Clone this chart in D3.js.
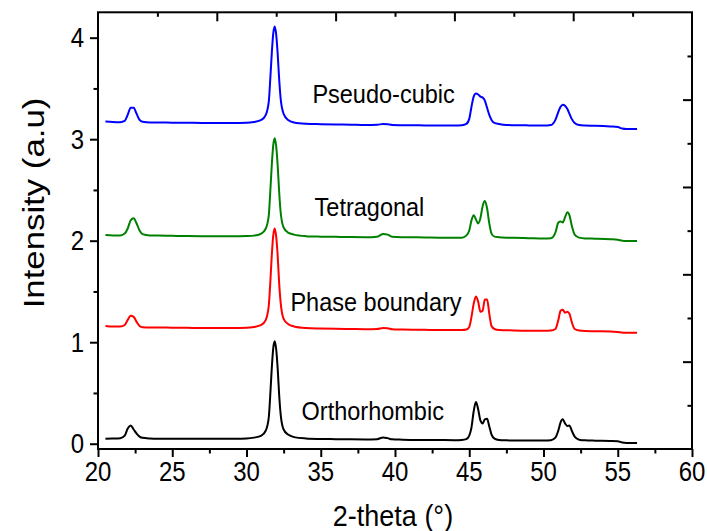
<!DOCTYPE html>
<html>
<head>
<meta charset="utf-8">
<script src="https://cdn.jsdelivr.net/npm/d3@7"></script>
<style>
  html, body { margin: 0; padding: 0; background: #fff; }
  svg { display: block; }
  text { font-family: "Liberation Sans", Arial, Helvetica, sans-serif; fill: #000; }
</style>
</head>
<body>
<svg id="chart" width="707" height="531"></svg>
<script>
// ---------------- data ----------------
const twoTheta = [20.5,21.0,21.5,21.8,22.0,22.2,22.4,22.6,22.8,23.0,23.5,24,25,26,27,28,29,30,30.5,
  31.0,31.3,31.5,31.6,31.7,31.8,31.9,32.0,32.1,32.2,32.3,32.5,32.8,33.2,34,35,36,37,38,38.8,39.2,39.5,39.8,
  40.5,42,43,44,44.5,44.8,45.0,45.15,45.3,45.45,45.6,45.75,45.9,46.05,46.2,46.35,46.5,46.7,47.0,47.5,48,49,
  50,50.5,50.8,51.0,51.15,51.3,51.45,51.6,51.75,51.9,52.1,52.4,52.8,53.5,54.5,55.0,55.3,55.6,56.3];

const orthorhombic = [0.05,0.052,0.055,0.08,0.15,0.18,0.14,0.10,0.07,0.058,0.052,0.05,0.05,0.049,0.048,0.048,0.049,0.052,0.06,
  0.08,0.13,0.26,0.48,0.74,0.94,1.01,0.93,0.74,0.48,0.29,0.14,0.09,0.065,0.052,0.047,0.045,0.043,0.042,0.045,0.062,0.055,0.043,
  0.04,0.037,0.036,0.035,0.037,0.045,0.08,0.16,0.32,0.41,0.34,0.23,0.20,0.24,0.245,0.17,0.09,0.05,0.037,0.033,0.032,0.031,
  0.032,0.035,0.06,0.13,0.21,0.24,0.20,0.175,0.18,0.13,0.07,0.04,0.033,0.03,0.027,0.024,0.012,0.008,0.008];

const phaseBoundary = [1.16,1.155,1.155,1.17,1.22,1.26,1.25,1.20,1.16,1.148,1.145,1.145,1.143,1.142,1.14,1.14,1.14,1.142,1.15,
  1.17,1.22,1.36,1.58,1.85,2.05,2.12,2.04,1.85,1.58,1.39,1.23,1.18,1.155,1.14,1.135,1.132,1.13,1.128,1.13,1.14,1.138,1.128,
  1.125,1.122,1.12,1.12,1.12,1.125,1.15,1.25,1.38,1.45,1.40,1.30,1.31,1.42,1.42,1.28,1.16,1.13,1.12,1.118,1.115,1.113,
  1.112,1.115,1.13,1.22,1.31,1.32,1.29,1.30,1.28,1.20,1.13,1.115,1.11,1.108,1.105,1.10,1.095,1.092,1.092];

const tetragonal = [2.055,2.052,2.052,2.07,2.12,2.20,2.22,2.17,2.10,2.065,2.052,2.05,2.048,2.046,2.045,2.045,2.045,2.047,2.05,
  2.07,2.12,2.25,2.48,2.74,2.94,3.01,2.93,2.74,2.48,2.28,2.13,2.08,2.06,2.045,2.04,2.038,2.036,2.035,2.04,2.065,2.06,2.04,
  2.035,2.032,2.03,2.03,2.03,2.05,2.10,2.20,2.25,2.21,2.17,2.22,2.34,2.39,2.32,2.17,2.07,2.04,2.035,2.03,2.028,2.025,
  2.022,2.025,2.08,2.18,2.19,2.18,2.23,2.28,2.25,2.15,2.06,2.03,2.022,2.02,2.015,2.01,2.0,1.997,1.997];

const pseudoCubic = [3.175,3.17,3.168,3.18,3.24,3.31,3.31,3.25,3.19,3.172,3.165,3.165,3.163,3.162,3.16,3.16,3.16,3.162,3.17,
  3.19,3.24,3.37,3.59,3.84,4.04,4.11,4.03,3.84,3.59,3.40,3.25,3.19,3.165,3.152,3.148,3.145,3.143,3.14,3.142,3.15,3.148,3.14,
  3.138,3.136,3.135,3.135,3.138,3.15,3.20,3.32,3.42,3.45,3.44,3.42,3.41,3.38,3.31,3.24,3.19,3.16,3.15,3.14,3.138,3.136,
  3.135,3.14,3.19,3.27,3.32,3.34,3.33,3.30,3.25,3.20,3.16,3.14,3.135,3.132,3.125,3.12,3.105,3.10,3.10];

const seriesNames = ["Orthorhombic", "Phase boundary", "Tetragonal", "Pseudo-cubic"];
const seriesColors = ["#000000", "#ff0000", "#008000", "#0000ff"];
const labelPos = [[38.5, 0.233], [38.72, 1.307], [38.28, 2.243], [39.23, 3.354]]; // [2-theta, intensity] anchors (middle, baseline)

const xMajorTicks = [20, 25, 30, 35, 40, 45, 50, 55, 60];
const xMinorTicks = [22.5, 27.5, 32.5, 37.5, 42.5, 47.5, 52.5, 57.5];
const yMajorTicks = [0, 1, 2, 3, 4];
const yMinorTicks = [0.5, 1.5, 2.5, 3.5];
const topTicks = [24, 28, 32, 36, 40, 44, 48, 52, 56];
const rightTicks = [1, 2, 3, 4, 5, 6, 7, 8, 9];

const xTitle = "2-theta (°)";
const yTitle = "Intensity (a.u)";

// ---------------- chart ----------------
const svg = d3.select("#chart");
const L = 98, R = 692, T = 12.3, B = 449;
const SY = 1.12; // vertical stretch of lettering in the reference

const x = d3.scaleLinear().domain([20, 60]).range([L, R]);
const y = d3.scaleLinear().domain([-0.052, 4.25]).range([B, T]);
const yRight = d3.scaleLinear().domain([0, 10]).range([T, B]);

const allSeries = [orthorhombic, phaseBoundary, tetragonal, pseudoCubic];

const line = d3.line()
  .x((d, i) => x(twoTheta[i]))
  .y(d => y(d))
  .curve(d3.curveMonotoneX);

svg.append("g").selectAll("path")
  .data(allSeries)
  .join("path")
  .attr("d", d => line(d))
  .attr("fill", "none")
  .attr("stroke", (d, i) => seriesColors[i])
  .attr("stroke-width", 2)
  .attr("stroke-linejoin", "round");

// annotations
svg.append("g").selectAll("text")
  .data(seriesNames)
  .join("text")
  .attr("transform", (d, i) => `translate(${x(labelPos[i][0])},${y(labelPos[i][1])}) scale(1,1.09)`)
  .attr("text-anchor", "middle")
  .attr("font-size", 23.5)
  .text(d => d);

function styleAxis(g) {
  g.select(".domain").remove();
  g.selectAll("line").attr("stroke", "#000").attr("stroke-width", 2);
}

// bottom axis
svg.append("g").attr("transform", `translate(0,${B})`)
  .call(d3.axisBottom(x).tickValues(xMajorTicks).tickSize(8).tickFormat(""))
  .call(styleAxis);
svg.append("g").attr("transform", `translate(0,${B})`)
  .call(d3.axisBottom(x).tickValues(xMinorTicks).tickSize(4.5).tickFormat(""))
  .call(styleAxis);
svg.append("g").selectAll("text")
  .data(xMajorTicks)
  .join("text")
  .attr("transform", d => `translate(${x(d)},481) scale(1,${SY})`)
  .attr("text-anchor", "middle")
  .attr("font-size", 24)
  .text(d3.format("d"));

// left axis
svg.append("g").attr("transform", `translate(${L},0)`)
  .call(d3.axisLeft(y).tickValues(yMajorTicks).tickSize(8).tickFormat(""))
  .call(styleAxis);
svg.append("g").attr("transform", `translate(${L},0)`)
  .call(d3.axisLeft(y).tickValues(yMinorTicks).tickSize(4.5).tickFormat(""))
  .call(styleAxis);
svg.append("g").selectAll("text")
  .data(yMajorTicks)
  .join("text")
  .attr("transform", d => `translate(84,${y(d) + 9.5}) scale(1,${SY})`)
  .attr("text-anchor", "end")
  .attr("font-size", 24)
  .text(d3.format("d"));

// top axis (inward ticks)
svg.append("g").attr("transform", `translate(0,${T})`)
  .call(d3.axisTop(x).tickValues(topTicks).tickSizeInner(0).tickSizeOuter(0).tickFormat(""))
  .call(styleAxis)
  .selectAll(".tick line")
  .attr("y2", d => ((d - 24) / 4) % 2 === 1 ? 9 : 4.5);

// right axis (inward ticks)
svg.append("g").attr("transform", `translate(${R},0)`)
  .call(d3.axisRight(yRight).tickValues(rightTicks).tickSizeInner(0).tickSizeOuter(0).tickFormat(""))
  .call(styleAxis)
  .selectAll(".tick line")
  .attr("x2", d => d % 2 === 0 ? -9 : -4.5);

// frame
svg.append("rect")
  .attr("x", L).attr("y", T).attr("width", R - L).attr("height", B - T)
  .attr("fill", "none").attr("stroke", "#000").attr("stroke-width", 2);

// axis titles
svg.append("text")
  .attr("transform", `translate(${(L + R) / 2 - 2},526) scale(1,${SY})`)
  .attr("text-anchor", "middle").attr("font-size", 27)
  .text(xTitle);

svg.append("text")
  .attr("transform", `translate(44,203) rotate(-90) scale(1.2,1)`)
  .attr("text-anchor", "middle").attr("font-size", 29)
  .text(yTitle);
</script>
</body>
</html>
